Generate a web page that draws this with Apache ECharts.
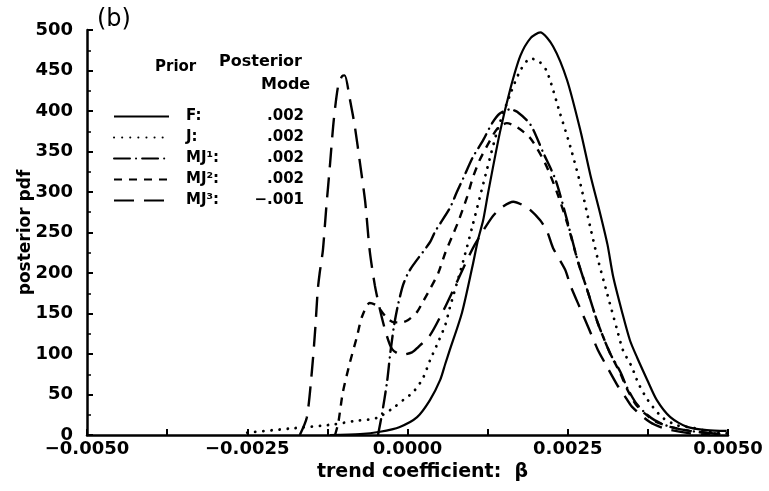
<!DOCTYPE html>
<html>
<head>
<meta charset="utf-8">
<script src="https://cdn.jsdelivr.net/npm/echarts@6/dist/echarts.min.js"></script>
<style>
  html, body { margin: 0; padding: 0; background: #fff; }
  #chart { width: 769px; height: 491px; }
</style>
</head>
<body>
<div id="chart"></div>
<script>
// ---- data (beta, posterior pdf) ----
const seriesNames = ['F:', 'J:', 'MJ\u00b9:', 'MJ\u00b2:', 'MJ\u00b3:'];
const posteriorModes = ['.002', '.002', '.002', '.002', '\u2212.001'];

const fBeta = [-0.00121, -0.00074, -0.00043, -0.00012, 0.00015, 0.00035, 0.00051, 0.00059, 0.00066, 0.00085, 0.00101, 0.00110, 0.00118, 0.00126, 0.00144, 0.00160, 0.00176, 0.00192, 0.00207, 0.00227, 0.00249, 0.00270, 0.00285, 0.00301, 0.00312, 0.00321, 0.00335, 0.00347, 0.00358, 0.00374, 0.00389, 0.00410, 0.00436, 0.00467, 0.00498];
const fPdf  = [0, 1, 4, 10, 22, 43, 68, 88, 105, 151, 207, 241, 265, 300, 373, 426, 468, 490, 497, 480, 438, 375, 322, 272, 235, 195, 151, 117, 96, 68, 43, 22, 10, 6, 5];

const jBeta = [-0.00250, -0.00183, -0.00116, -0.00085, -0.00048, -0.00023, -0.00007, 0.00009, 0.00024, 0.00035, 0.00048, 0.00059, 0.00066, 0.00087, 0.00101, 0.00113, 0.00124, 0.00141, 0.00160, 0.00176, 0.00192, 0.00207, 0.00218, 0.00238, 0.00254, 0.00270, 0.00285, 0.00296, 0.00312, 0.00327, 0.00336, 0.00350, 0.00360, 0.00375, 0.00397, 0.00420, 0.00445, 0.00472, 0.00500];
const jPdf  = [3, 8, 13, 17, 21, 33, 43, 53, 70, 92, 115, 136, 157, 215, 257, 294, 328, 378, 420, 450, 465, 460, 448, 397, 356, 309, 257, 220, 173, 130, 105, 84, 64, 43, 22, 12, 9, 4, 2];

const mj1Beta = [-0.00046, -0.00040, -0.00032, -0.00027, -0.00021, -0.00015, -0.00007, 0.00001, 0.00009, 0.00035, 0.00043, 0.00066, 0.00077, 0.00087, 0.00102, 0.00118, 0.00132, 0.00144, 0.00160, 0.00171, 0.00192, 0.00212, 0.00231, 0.00249, 0.00266, 0.00280, 0.00297, 0.00316, 0.00332, 0.00343, 0.00356, 0.00371, 0.00386, 0.00410, 0.00441, 0.00488];
const mj1Pdf  = [0, 25, 65, 100, 135, 160, 185, 200, 210, 238, 251, 280, 300, 317, 343, 364, 385, 397, 402, 399, 383, 348, 315, 265, 214, 180, 138, 101, 78, 58, 40, 27, 18, 10, 5, 1];

const mj2Beta = [-0.00113, -0.00108, -0.00101, -0.00090, -0.00079, -0.00071, -0.00059, -0.00048, -0.00038, -0.00030, -0.00021, -0.00009, 0.00001, 0.00015, 0.00023, 0.00035, 0.00048, 0.00059, 0.00069, 0.00079, 0.00093, 0.00102, 0.00113, 0.00129, 0.00140, 0.00155, 0.00171, 0.00192, 0.00215, 0.00233, 0.00249, 0.00266, 0.00280, 0.00297, 0.00316, 0.00332, 0.00343, 0.00356, 0.00371, 0.00386, 0.00410, 0.00441, 0.00488];
const mj2Pdf  = [0, 15, 52, 89, 121, 146, 163, 160, 150, 143, 139, 139, 142, 152, 163, 180, 200, 225, 244, 263, 294, 318, 340, 364, 378, 385, 380, 366, 335, 300, 262, 214, 180, 138, 101, 76, 56, 38, 26, 17, 10, 5, 1];

const mj3Beta = [-0.00168, -0.00157, -0.00149, -0.00144, -0.00140, -0.00137, -0.00132, -0.00127, -0.00121, -0.00115, -0.00108, -0.00102, -0.00098, -0.00090, -0.00082, -0.00074, -0.00066, -0.00059, -0.00051, -0.00043, -0.00034, -0.00024, -0.00009, 0.00007, 0.00016, 0.00035, 0.00055, 0.00069, 0.00087, 0.00105, 0.00132, 0.00147, 0.00165, 0.00188, 0.00207, 0.00218, 0.00227, 0.00246, 0.00254, 0.00269, 0.00282, 0.00297, 0.00308, 0.00327, 0.00339, 0.00350, 0.00378, 0.00401, 0.00441, 0.00472];
const mj3Pdf  = [0, 22, 80, 130, 179, 200, 228, 278, 333, 389, 432, 443, 444, 415, 380, 335, 288, 228, 185, 155, 127, 106, 99, 102, 108, 123, 152, 175, 206, 235, 269, 281, 288, 280, 265, 251, 231, 204, 185, 157, 133, 105, 89, 62, 48, 35, 16, 8, 2, 0];

function pairs(xs, ys) { return xs.map((x, i) => [x, ys[i]]); }

const FONT = 'DejaVu Sans';
const chart = echarts.init(document.getElementById('chart'), null, { renderer: 'canvas' });

const styles = [
  { type: 'solid', width: 2.2, cap: 'butt' },
  { type: [0.1, 8], width: 2.8, cap: 'round' },
  { type: [16, 6, 0.1, 6], width: 2.4, cap: 'round' },
  { type: [8, 7], width: 2.4, cap: 'butt' },
  { type: [20, 10], width: 2.4, cap: 'butt' }
];
const dataSets = [pairs(fBeta, fPdf), pairs(jBeta, jPdf), pairs(mj1Beta, mj1Pdf), pairs(mj2Beta, mj2Pdf), pairs(mj3Beta, mj3Pdf)];

const series = seriesNames.map((name, i) => ({
  name: name,
  type: 'line',
  data: dataSets[i],
  symbol: 'none',
  showSymbol: false,
  smooth: 0.25,
  animation: false,
  lineStyle: { color: '#000', width: styles[i].width, type: styles[i].type, cap: styles[i].cap },
  itemStyle: { color: '#000' }
}));

const option = {
  animation: false,
  backgroundColor: '#fff',
  title: {
    text: '(b)', left: 92, top: 3,
    textStyle: { fontFamily: FONT, fontSize: 24, fontWeight: 'normal', color: '#000' }
  },
  grid: { left: 87, right: 41, top: 30, bottom: 56 },
  legend: {
    orient: 'vertical',
    left: 108, top: 104,
    itemWidth: 55, itemHeight: 14, itemGap: 6,
    data: seriesNames,
    selectedMode: false,
    itemStyle: { opacity: 0, borderWidth: 0 },
    formatter: function (name) {
      const i = seriesNames.indexOf(name);
      return '{n|' + name + '}{v|' + posteriorModes[i] + '}';
    },
    textStyle: {
      color: '#000',
      rich: {
        n: { fontFamily: FONT, fontSize: 15, fontWeight: 'bold', color: '#000', width: 58, padding: [0, 0, 0, 12] },
        v: { fontFamily: FONT, fontSize: 15, fontWeight: 'bold', color: '#000', width: 60, align: 'right' }
      }
    }
  },
  graphic: [
    { type: 'text', left: 155, top: 60, style: { text: 'Prior', font: 'bold 15px "DejaVu Sans"', fill: '#000' } },
    { type: 'text', left: 219, top: 54, style: { text: 'Posterior', font: 'bold 16px "DejaVu Sans"', fill: '#000' } },
    { type: 'text', left: 261, top: 77, style: { text: 'Mode', font: 'bold 16px "DejaVu Sans"', fill: '#000' } }
  ],
  xAxis: {
    type: 'value',
    min: -0.005, max: 0.005, interval: 0.0025,
    name: 'trend coefficient:  \u03b2',
    nameLocation: 'middle',
    nameGap: 28,
    nameMoveOverlap: false,
    nameTextStyle: { fontFamily: FONT, fontSize: 19, fontWeight: 'bold', color: '#000', padding: [0, 0, 0, 30] },
    axisLine: { show: true, onZero: false, lineStyle: { color: '#000', width: 2.5 } },
    axisTick: { show: true, inside: true, length: 6, lineStyle: { color: '#000', width: 2 } },
    minorTick: { show: true, splitNumber: 2, length: 6, lineStyle: { color: '#000', width: 2 } },
    splitLine: { show: false },
    minorSplitLine: { show: false },
    axisLabel: {
      margin: 5,
      fontFamily: FONT, fontSize: 18, fontWeight: 'bold', color: '#000',
      formatter: function (v) {
        if (Math.abs(v) < 1e-12) return '0.0000';
        return (v < 0 ? '\u2212' : '') + Math.abs(v).toFixed(4);
      }
    }
  },
  yAxis: {
    type: 'value',
    min: 0, max: 500, interval: 50,
    name: 'posterior pdf',
    nameLocation: 'middle',
    nameGap: 53,
    nameMoveOverlap: false,
    nameTextStyle: { fontFamily: FONT, fontSize: 17, fontWeight: 'bold', color: '#000' },
    axisLine: { show: true, onZero: false, lineStyle: { color: '#000', width: 2.5 } },
    axisTick: { show: true, inside: true, length: 6, lineStyle: { color: '#000', width: 2 } },
    minorTick: { show: true, splitNumber: 2, length: 4, lineStyle: { color: '#000', width: 1.5 } },
    splitLine: { show: false },
    minorSplitLine: { show: false },
    axisLabel: {
      margin: 14,
      fontFamily: FONT, fontSize: 18, fontWeight: 'bold', color: '#000',
      formatter: function (v) { return String(v); }
    }
  },
  series: series
};
chart.setOption(option);
</script>
</body>
</html>
